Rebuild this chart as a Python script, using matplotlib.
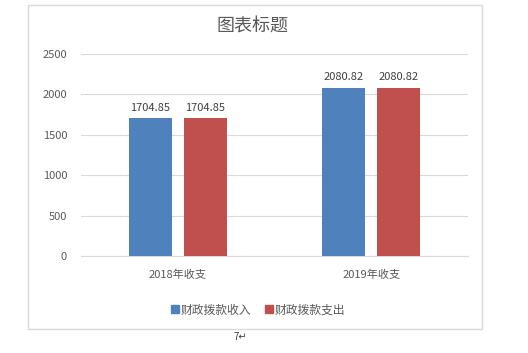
import numpy as np
import matplotlib
matplotlib.use("Agg")
import matplotlib.pyplot as plt
from matplotlib.patches import Rectangle
from matplotlib.lines import Line2D

plt.rcParams['font.family'] = ['Noto Sans CJK SC', 'DejaVu Sans']

categories = ["2018年收支", "2019年收支"]
series_names = ["财政拨款收入", "财政拨款支出"]
income = [1704.85, 2080.82]
expense = [1704.85, 2080.82]
yticks = [0, 500, 1000, 1500, 2000, 2500]

C_BLUE = "#4F81BD"
C_RED = "#C0504D"
C_TEXT = "#595959"
C_GRID = "#D9D9D9"

fig = plt.figure(figsize=(5.28, 3.53), dpi=100)
fig.patch.set_facecolor("white")

# chart frame
fig.patches.append(Rectangle((28 / 528, 1 - 329 / 353), 454 / 528, 324 / 353,
                             transform=fig.transFigure, fill=False,
                             edgecolor=C_GRID, lw=1.0))

ax = fig.add_axes([81 / 528, 1 - 256 / 353, 387 / 528, 202 / 353])
x = np.arange(len(categories))
w = 0.222
off = 0.142
b1 = ax.bar(x - off, income, w, color=C_BLUE, zorder=3)
b2 = ax.bar(x + off, expense, w, color=C_RED, zorder=3)

for bars in (b1, b2):
    for r in bars:
        ax.annotate(f"{r.get_height():.2f}", xy=(r.get_x() + r.get_width() / 2, r.get_height()),
                    xytext=(0, 4), textcoords="offset points", ha="center", va="bottom",
                    fontsize=8, color="#404040")

ax.set_xlim(-0.5, 1.5)
ax.set_ylim(0, 2500)
ax.set_yticks(yticks)
ax.set_xticks(x)
ax.set_xticklabels(categories)
ax.yaxis.grid(True, color=C_GRID, lw=0.8, zorder=0)
ax.tick_params(axis="both", length=0, labelsize=8, colors=C_TEXT)
ax.tick_params(axis="y", pad=10)
ax.tick_params(axis="x", pad=10)
for s in ("top", "right", "left"):
    ax.spines[s].set_visible(False)
ax.spines["bottom"].set_color(C_GRID)
ax.set_facecolor("none")

fig.text(253 / 528, 1 - 27 / 353, "图表标题", ha="center", va="center",
         fontsize=13, color=C_TEXT)

handles = [Line2D([0], [0], marker="s", color="none", markerfacecolor=c,
                  markeredgecolor=c, markersize=6, label=n)
           for c, n in zip((C_BLUE, C_RED), series_names)]
fig.legend(handles=handles, loc="center", bbox_to_anchor=(258 / 528, 1 - 310 / 353),
           ncol=2, frameon=False, fontsize=8.5, handlelength=0.6, handletextpad=0.2,
           columnspacing=1.2, labelcolor=C_TEXT)

fig.text(240 / 528, 1 - 337 / 353, "7↵", ha="center", va="center",
         fontsize=7, color="#404040")

fig.savefig("out.png", dpi=100)
